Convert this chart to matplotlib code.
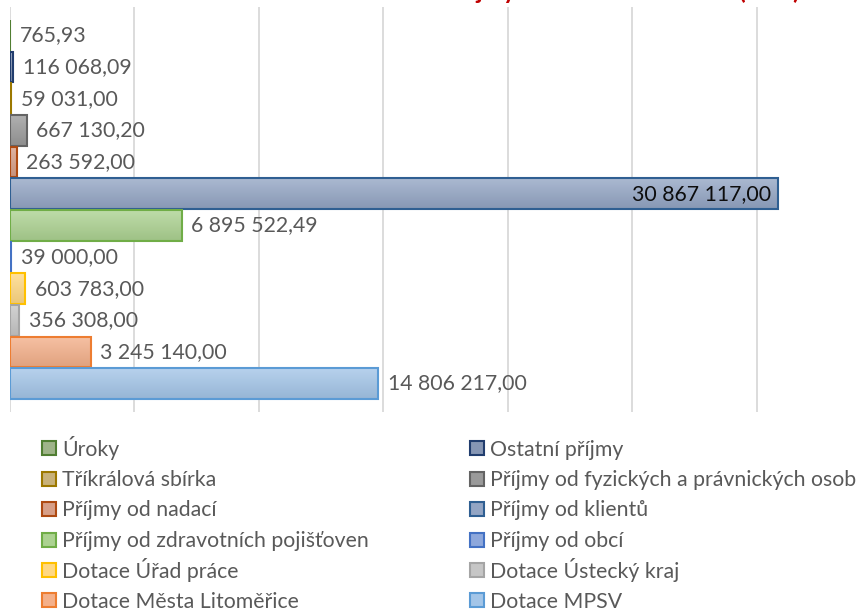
import matplotlib
matplotlib.use("Agg")
import matplotlib.pyplot as plt
import matplotlib.colors as mcolors
from matplotlib.patches import Rectangle
import numpy as np

# ---- data ----
categories = [
    "Úroky",
    "Ostatní příjmy",
    "Tříkrálová sbírka",
    "Příjmy od fyzických a právnických osob",
    "Příjmy od nadací",
    "Příjmy od klientů",
    "Příjmy od zdravotních pojišťoven",
    "Příjmy od obcí",
    "Dotace Úřad práce",
    "Dotace Ústecký kraj",
    "Dotace Města Litoměřice",
    "Dotace MPSV",
]
values = [
    765.93,
    116068.09,
    59031.00,
    667130.20,
    263592.00,
    30867117.00,
    6895522.49,
    39000.00,
    603783.00,
    356308.00,
    3245140.00,
    14806217.00,
]
face_colors = [
    "#9fb489", "#8696b4", "#c8b27a", "#9a9a9a", "#d79f88", "#93a5c4",
    "#acd291", "#8ea8dc", "#ffd883", "#c6c6c6", "#f4b08a", "#a3c5e8",
]
edge_colors = [
    "#507e32", "#213d6e", "#9c7800", "#646464", "#ae4a12", "#2f5f92",
    "#70ad47", "#4472c4", "#ffc000", "#a5a5a5", "#ed7d31", "#5b9bd5",
]
title_text = "Příjmy celkem za rok 2016 (v Kč)"

FS = 15.3
FONT = ["Lato", "DejaVu Sans"]
plt.rcParams["font.family"] = FONT

W, H = 868, 611
fig = plt.figure(figsize=(W / 100, H / 100), dpi=100)
fig.patch.set_facecolor("white")

ax = fig.add_axes([10 / W, (H - 412) / H, 871 / W, 405 / H])
for s in ax.spines.values():
    s.set_visible(False)
ax.set_xticks(np.arange(0, 35e6 + 1, 5e6))
ax.set_yticks([])
ax.tick_params(axis="x", length=0, labelbottom=False)
ax.grid(axis="x", color="#d9d9d9", linewidth=1.3, zorder=0)
ax.set_axisbelow(True)

ypos = np.arange(len(values))
bars = ax.barh(ypos, values, height=0.97, color="none",
               edgecolor=edge_colors, linewidth=1.5, zorder=3)


def shade(c, f):
    r = np.array(mcolors.to_rgb(c))
    if f > 0:
        return r + (1 - r) * f
    return r * (1 + f)


for b, fc in zip(bars, face_colors):
    x0, y0 = b.get_x(), b.get_y()
    w, h = b.get_width(), b.get_height()
    top = shade(fc, 0.22)
    bot = shade(fc, -0.08)
    t = np.linspace(0, 1, 64)[:, None]
    grad = (top[None, :] * (1 - t) + bot[None, :] * t)[:, None, :]
    ax.imshow(grad, extent=[x0, x0 + w, y0 + h, y0], aspect="auto",
              zorder=2, interpolation="bilinear")

ax.set_xlim(0, 35e6)
ax.set_ylim(11.9, -0.9)


def fmt(v):
    s = f"{v:,.2f}"
    return s.replace(",", " ").replace(".", ",")


vmax = max(values)
for b, v in zip(bars, values):
    yc = b.get_y() + b.get_height() / 2
    if v == vmax:
        ax.annotate(fmt(v), (v, yc), xytext=(-5, 0), textcoords="offset points",
                    ha="right", va="center", fontsize=FS, color="#0d0d0d", zorder=5)
    else:
        ax.annotate(fmt(v), (v, yc), xytext=(7, 0), textcoords="offset points",
                    ha="left", va="center", fontsize=FS, color="#595959", zorder=5)

# title (mostly cut off above the image, as in the reference)
fig.text(800 / W, 1.0 + 1 / H, title_text, ha="right", va="baseline",
         fontsize=17.6, fontweight="bold", color="#c00000")

# legend: two columns, row-major order of the series
row_y = [448, 478.5, 509, 539.5, 570, 600]
col_x = [42, 470]
MS = 14
for i, (lab, fc, ec) in enumerate(zip(categories, face_colors, edge_colors)):
    r, c = divmod(i, 2)
    x = col_x[c]
    y = row_y[r]
    fig.patches.append(Rectangle((x / W, (H - y - MS / 2) / H), MS / W, MS / H,
                                 transform=fig.transFigure, facecolor=fc,
                                 edgecolor=ec, linewidth=1.5))
    fig.text((x + 20) / W, (H - y - 7.5) / H, lab, ha="left", va="baseline",
             fontsize=FS, color="#595959")

fig.savefig("out.png", dpi=100, facecolor="white")
